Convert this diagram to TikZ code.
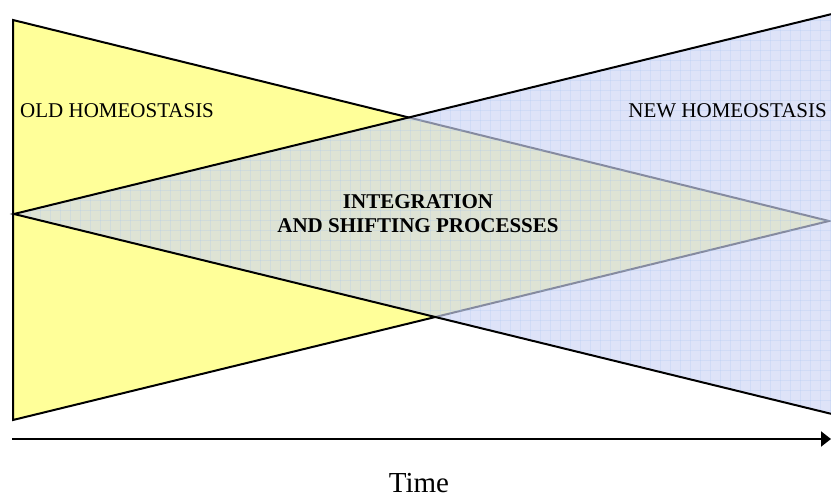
\documentclass[tikz,border=0pt]{standalone}
\usepackage{fontspec}
\setmainfont{Liberation Serif}
\usetikzlibrary{arrows.meta}
\definecolor{oldyellow}{RGB}{255,255,153}
\definecolor{newblue}{RGB}{205,212,245}
\definecolor{gridblue}{RGB}{160,195,240}
\tikzset{
  edge/.style={draw=black, line width=2pt, line join=miter},
  label/.style={inner sep=0pt, font=\fontsize{21}{24}\selectfont},
  core/.style={inner sep=0pt, align=center, font=\bfseries\fontsize{21}{24}\selectfont},
  timeaxis/.style={line width=2pt, -{Triangle[length=10pt,width=15pt]}}
}
\begin{document}
\begin{tikzpicture}[x=1pt,y=-1pt]
\useasboundingbox (0,0) rectangle (831,497);
% vertices
\coordinate (YT) at (13,20);
\coordinate (YB) at (13,420);
\coordinate (YA) at (829,221);
\coordinate (BA) at (14,214);
\coordinate (BT) at (836,13);
\coordinate (BB) at (836,415);
% old homeostasis (yellow)
\fill[oldyellow] (YT) -- (YA) -- (YB) -- cycle;
\draw[edge] (YT) -- (YA) -- (YB) -- cycle;
% new homeostasis (blue, translucent)
\begin{scope}
  \clip (0,0) rectangle (831,497);
  \fill[newblue, fill opacity=0.65] (BA) -- (BT) -- (BB) -- cycle;
  \begin{scope}
    \clip (BA) -- (BT) -- (BB) -- cycle;
    \foreach \gx in {0,10,...,840} {
      \draw[gridblue, opacity=0.22, line width=0.7pt] (\gx,0) -- (\gx,497);
    }
    \foreach \gy in {0,10,...,500} {
      \draw[gridblue, opacity=0.22, line width=0.7pt] (0,\gy) -- (840,\gy);
    }
  \end{scope}
  \draw[edge] (BB) -- (BA) -- (BT);
\end{scope}
% texts
\node[label, anchor=base west] (old) at (20,118) {OLD HOMEOSTASIS};
\node[label, anchor=base east] (new) at (827,118) {NEW HOMEOSTASIS};
\node[core] (mid) at (418,214) {INTEGRATION\\AND SHIFTING PROCESSES};
% time axis
\coordinate (t0) at (12,439);
\coordinate (t1) at (831,439);
\draw[timeaxis] (t0) -- (t1);
\node[inner sep=0pt, anchor=base, font=\fontsize{29}{32}\selectfont] (time) at (419,492) {Time};
\end{tikzpicture}
\end{document}
